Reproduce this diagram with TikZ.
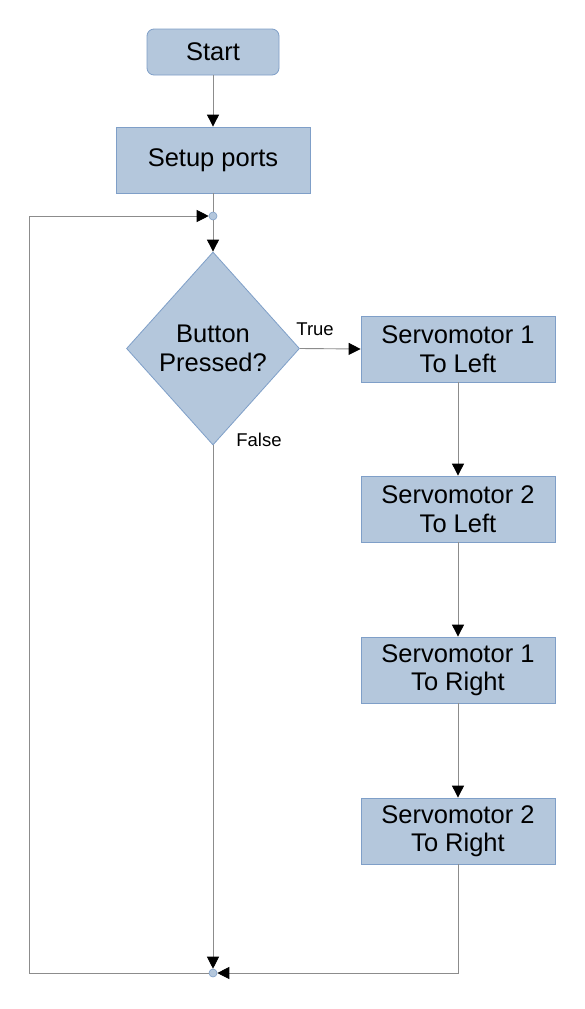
\documentclass[tikz,border=0pt]{standalone}
\usepackage{fontspec}
\setmainfont{Liberation Sans}
\usetikzlibrary{arrows.meta,shapes.geometric}
\definecolor{boxfill}{HTML}{B4C7DC}
\definecolor{boxline}{HTML}{7F9FC8}
\definecolor{wire}{HTML}{8C8C8C}

\begin{document}
\begin{tikzpicture}[x=1pt,y=-1pt]
    \tikzstyle{block}=[draw=boxline,fill=boxfill,line width=0.8pt,
        minimum width=194pt,minimum height=66pt,inner sep=0pt,
        align=center,font=\fontsize{25.5}{28.5}\selectfont]
    \tikzstyle{joint}=[circle,draw=boxline,fill=boxfill,line width=0.6pt,
        minimum size=8pt,inner sep=0pt]
    \tikzstyle{wire}=[draw=wire,line width=0.9pt]
    \tikzstyle{flow}=[wire,-{Triangle[length=12pt,width=12pt,color=black]}]
    \tikzstyle{tag}=[font=\fontsize{18.5}{22}\selectfont]
    \useasboundingbox[fill=white] (0,0) rectangle (584,1009);
    % Blocks
    \node[block,rounded corners=7pt,minimum width=132pt,minimum height=46pt] (start) at (213,52) {Start};
    \node[block] (setup) at (213,160) {Setup ports};
    \node[block,diamond,aspect=0.896,minimum width=173pt,minimum height=193pt] (button) at (213,348.5) {Button\\Pressed?};
    \node[block] (s1left) at (458,349) {Servomotor 1\\To Left};
    \node[block] (s2left) at (458,509) {Servomotor 2\\To Left};
    \node[block] (s1right) at (458,670) {Servomotor 1\\To Right};
    \node[block] (s2right) at (458,831) {Servomotor 2\\To Right};
    % Joints
    \node[joint] (top) at (213,216) {};
    \node[joint] (bottom) at (213,973) {};
    \coordinate (corner) at (29,216);
    % Connectors
    \draw[flow] (start) -- (setup);
    \draw[wire] (setup) -- (top);
    \draw[flow] (top) -- (button);
    \draw[flow] (button.east) -- (s1left.west) node[tag,pos=0.25,above=9pt] {True};
    \draw[flow] (s1left) -- (s2left);
    \draw[flow] (s2left) -- (s1right);
    \draw[flow] (s1right) -- (s2right);
    \draw[flow] (button.south) -- (bottom);
    \node[tag] (false) at (259,440) {False};
    \draw[flow] (s2right.south) |- (bottom);
    \draw[flow] (bottom) -| (corner) -- (top);
\end{tikzpicture}
\end{document}
